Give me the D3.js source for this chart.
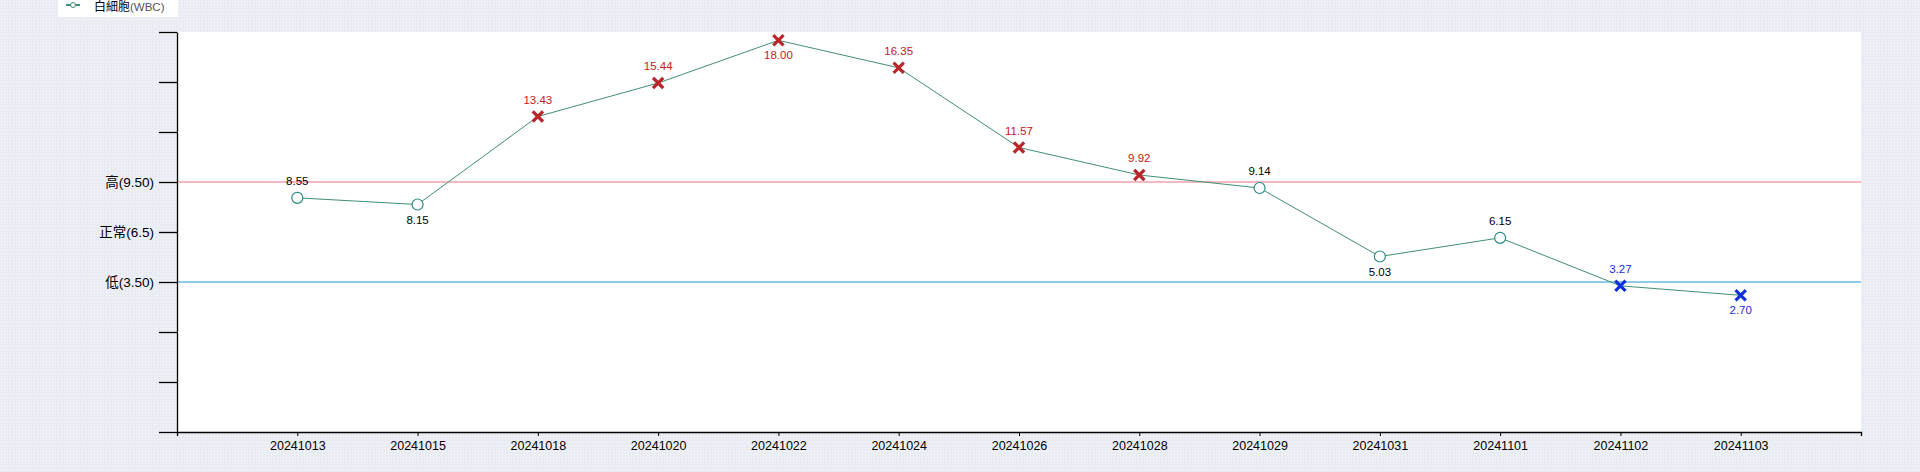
<!DOCTYPE html>
<html>
<head>
<meta charset="utf-8">
<script src="https://cdn.jsdelivr.net/npm/d3@7"></script>
<style>
  html, body { margin: 0; padding: 0; background: #eef1f6; }
  svg { display: block; }
  text { font-family: "Liberation Sans", Arial, "Noto Sans CJK TC", sans-serif; }
</style>
</head>
<body>
<svg id="chart" width="1920" height="472"></svg>
<script>
// ---- data ----
const dates = ["20241013","20241015","20241018","20241020","20241022","20241024","20241026","20241028","20241029","20241031","20241101","20241102","20241103"];
const wbcValues = [8.55, 8.15, 13.43, 15.44, 18.00, 16.35, 11.57, 9.92, 9.14, 5.03, 6.15, 3.27, 2.70];
const refValues = [9.5, 6.5, 3.5];
const refLabels = ["高(9.50)", "正常(6.5)", "低(3.50)"];
const highLimit = 9.5;
const lowLimit = 3.5;
const yTickValues = [-5.5, -2.5, 0.5, 3.5, 6.5, 9.5, 12.5, 15.5, 18.5];
const seriesName = "白細胞";
const seriesUnit = "(WBC)";

(function () {
// ---- layout ----
const svg = d3.select("#chart");
const W = 1920, H = 472;
const mL = 177, mR = 1861, mT = 32, mB = 432;

// background pattern
const defs = svg.append("defs");
const pat = defs.append("pattern").attr("id", "bgpat").attr("width", 3).attr("height", 3).attr("patternUnits", "userSpaceOnUse");
pat.append("rect").attr("width", 3).attr("height", 3).attr("fill", "#e9edf3");
pat.append("rect").attr("x", 1).attr("y", 1).attr("width", 1).attr("height", 1).attr("fill", "#f8f9fb");
svg.append("rect").attr("width", W).attr("height", H).attr("fill", "url(#bgpat)");

// plot area
svg.append("rect").attr("x", mL).attr("y", mT).attr("width", mR - mL).attr("height", mB - mT).attr("fill", "#ffffff");

const x = d3.scalePoint().domain(dates).range([mL, mR]).padding(1);
const y = d3.scaleLinear().domain([-5.5, 18.5]).range([mB, mT]);

// reference lines
svg.append("line").attr("x1", mL).attr("x2", mR).attr("y1", y(highLimit)).attr("y2", y(highLimit))
  .attr("stroke", "#f5b9c2").attr("stroke-width", 2);
svg.append("line").attr("x1", mL).attr("x2", mR).attr("y1", y(lowLimit)).attr("y2", y(lowLimit))
  .attr("stroke", "#8fcbea").attr("stroke-width", 2);

// axes
const yLabelMap = new Map(refValues.map((v, i) => [v, refLabels[i]]));
const yAxis = d3.axisLeft(y).tickValues(yTickValues).tickSize(18).tickSizeOuter(0).tickPadding(5)
  .tickFormat(d => yLabelMap.get(d) || "");
const gy = svg.append("g").attr("transform", `translate(${mL},0)`).call(yAxis);
gy.select(".domain").attr("stroke", "#000").attr("stroke-width", 1.3);
gy.selectAll(".tick line").attr("stroke", "#000").attr("stroke-width", 1.3);
gy.selectAll(".tick text").attr("font-size", 13.5).attr("fill", "#000");

const xAxis = d3.axisBottom(x).tickSize(4).tickSizeOuter(4).tickPadding(5);
const gx = svg.append("g").attr("transform", `translate(0,${mB})`).call(xAxis);
gx.select(".domain").attr("stroke", "#000").attr("stroke-width", 1.3);
gx.selectAll(".tick line").attr("stroke", "#000");
gx.selectAll(".tick text").attr("font-size", 12.5).attr("fill", "#000");

// series line
const pts = dates.map((d, i) => ({ d, v: wbcValues[i], i }));
svg.append("path").datum(pts)
  .attr("fill", "none").attr("stroke", "#3f8f72").attr("stroke-width", 1)
  .attr("d", d3.line().x(p => x(p.d)).y(p => y(p.v)));

const status = v => v > highLimit ? "high" : (v < lowLimit ? "low" : "normal");
const colorFor = s => s === "high" ? "#c42020" : (s === "low" ? "#1a2ed0" : "#000000");
const markFor = s => s === "high" ? "#b8262a" : "#1030d8";

// markers
pts.forEach(p => {
  const s = status(p.v);
  const cx = x(p.d), cy = y(p.v);
  if (s === "normal") {
    svg.append("circle").attr("cx", cx).attr("cy", cy).attr("r", 5.5)
      .attr("fill", "#fff").attr("stroke", "#2b8a82").attr("stroke-width", 1.2);
  } else {
    const r = 4;
    svg.append("path")
      .attr("d", `M${cx - r},${cy - r}L${cx + r},${cy + r}M${cx - r},${cy + r}L${cx + r},${cy - r}`)
      .attr("stroke", markFor(s)).attr("stroke-width", 3.2).attr("stroke-linecap", "square").attr("fill", "none");
  }
});

// value labels
pts.forEach((p, i) => {
  const prev = i > 0 ? wbcValues[i - 1] : Infinity;
  const next = i < wbcValues.length - 1 ? wbcValues[i + 1] : Infinity;
  const cy = y(p.v);
  const isMin = p.v <= prev && p.v <= next;
  const below = isMin || (cy - 20 < mT);
  svg.append("text")
    .attr("x", x(p.d)).attr("y", below ? cy + 19 : cy - 13)
    .attr("text-anchor", "middle").attr("font-size", 11.5)
    .attr("fill", colorFor(status(p.v)))
    .text(p.v.toFixed(2));
});

// legend
const lg = svg.append("g");
lg.append("rect").attr("x", 58).attr("y", -2).attr("width", 120).attr("height", 19).attr("fill", "#fff");
lg.append("line").attr("x1", 66).attr("x2", 80).attr("y1", 5).attr("y2", 5).attr("stroke", "#3f8f72").attr("stroke-width", 2);
lg.append("circle").attr("cx", 73).attr("cy", 5).attr("r", 2.5).attr("fill", "#fff").attr("stroke", "#3f8f72").attr("stroke-width", 1);
const lt = lg.append("text").attr("x", 94).attr("y", 11).attr("font-size", 12);
lt.append("tspan").attr("fill", "#000").text(seriesName);
lt.append("tspan").attr("fill", "#555").attr("font-size", 11.5).text(seriesUnit);
})();
</script>
</body>
</html>
